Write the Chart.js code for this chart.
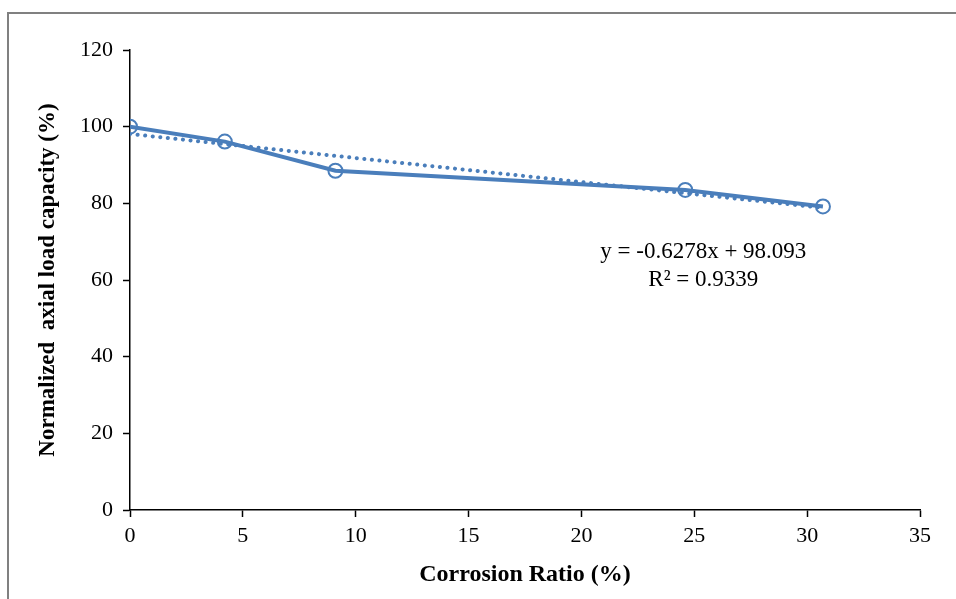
<!DOCTYPE html>
<html>
<head>
<meta charset="utf-8">
<script src="https://cdn.jsdelivr.net/npm/chart.js@4.4.1/dist/chart.umd.min.js"></script>
<style>
  html, body { margin: 0; padding: 0; background: #fff; overflow: hidden; }
  #wrap { position: relative; width: 956px; height: 599px; }
  #frame { position: absolute; left: 7px; top: 12px; width: 1000px; height: 700px;
           border-left: 2px solid #808080; border-top: 2px solid #808080; }
  canvas { position: absolute; left: 0; top: 0; }
</style>
</head>
<body>
<div id="wrap">
  <div id="frame"></div>
  <canvas id="chart" width="956" height="599"></canvas>
</div>
<script>
// measured data
const corrosion = [0, 4.2, 9.1, 24.6, 30.7];
const loadCapacity = [100, 96.1, 88.5, 83.5, 79.2];

// linear trendline end points (y = -0.6278x + 98.093)
const trendX = [0, 30.7];
const trendY = [98.09, 78.82];

const eqLines = ['y = -0.6278x + 98.093', 'R\u00b2 = 0.9339'];

const blue = '#4A7EBB';
const serif = "'Liberation Serif', 'Times New Roman', serif";

// equation text next to the trendline
const eqLabel = {
    id: 'eqLabel',
    afterDraw(chart) {
        const ctx = chart.ctx;
        const x = chart.scales.x.getPixelForValue(25.4);
        const y = chart.scales.y.getPixelForValue(67.3);
        ctx.save();
        ctx.fillStyle = '#000';
        ctx.font = '23px ' + serif;
        ctx.textAlign = 'center';
        ctx.textBaseline = 'middle';
        ctx.fillText(eqLines[0], x, y);
        ctx.fillText(eqLines[1], x, y + 28);
        ctx.restore();
    }
};

new Chart(document.getElementById('chart').getContext('2d'), {
    type: 'scatter',
    data: {
        datasets: [{
            label: 'Load',
            data: corrosion.map((c, i) => ({x: c, y: loadCapacity[i]})),
            showLine: true,
            borderColor: blue,
            borderWidth: 4,
            pointRadius: 7,
            pointBorderWidth: 2,
            pointBackgroundColor: 'rgba(0,0,0,0)',
            pointBorderColor: blue,
            order: 1
        }, {
            label: 'Trend',
            data: trendX.map((t, i) => ({x: t, y: trendY[i]})),
            showLine: true,
            borderColor: blue,
            borderWidth: 4,
            borderDash: [0.1, 7.5],
            borderCapStyle: 'round',
            pointRadius: 0,
            order: 2
        }]
    },
    options: {
        responsive: false,
        animation: false,
        layout: { padding: { top: 50, right: 36, left: 0, bottom: 0 } },
        plugins: { legend: { display: false }, tooltip: { enabled: false } },
        scales: {
            x: {
                min: 0, max: 35,
                afterFit: s => { s.height = 89; },
                ticks: { stepSize: 5, color: '#000', font: { family: serif, size: 22 }, padding: 6 },
                grid: { drawOnChartArea: false, tickLength: 7, color: '#000', tickWidth: 1.5 },
                border: { color: '#000', width: 1.5 },
                title: { display: true, text: 'Corrosion Ratio (%)', color: '#000',
                         font: { family: serif, size: 24, weight: 'bold' }, padding: { top: 10, bottom: 10 } }
            },
            y: {
                min: 0, max: 120,
                afterFit: s => { s.width = 130; },
                ticks: { stepSize: 20, color: '#000', font: { family: serif, size: 22 }, padding: 10 },
                grid: { drawOnChartArea: false, tickLength: 7, color: '#000', tickWidth: 1.5 },
                border: { color: '#000', width: 1.5 },
                title: { display: true, text: 'Normalized  axial load capacity (%)', color: '#000',
                         font: { family: serif, size: 23, weight: 'bold' }, padding: { top: 34, bottom: 34 } }
            }
        }
    },
    plugins: [eqLabel]
});
</script>
</body>
</html>
